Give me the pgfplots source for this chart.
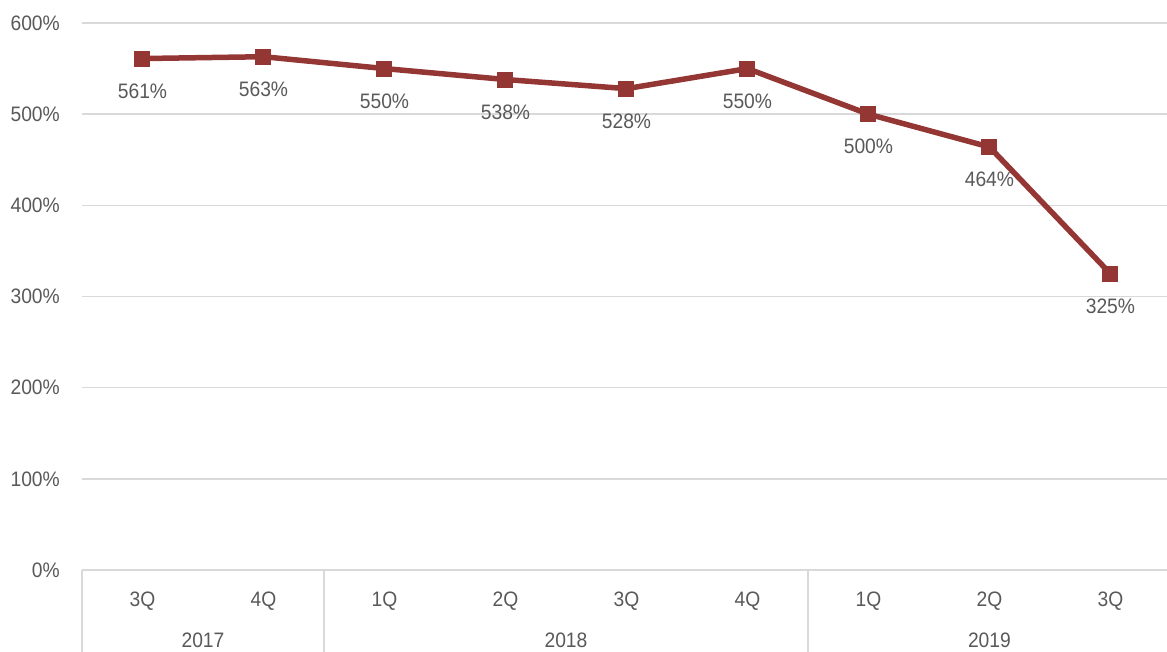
\documentclass[border=0pt]{standalone}
\usepackage{fontspec}
\setmainfont{Liberation Sans}[FakeStretch=0.92]
\usepackage{pgfplots}
\pgfplotsset{compat=1.18}
\definecolor{serie}{HTML}{943634}
\definecolor{txt}{HTML}{595959}
\definecolor{grd}{HTML}{D9D9D9}
\newcommand\lblfont{\fontsize{21}{25}\selectfont}
\begin{document}
\begin{tikzpicture}
\path[use as bounding box] (-82bp,-82bp) rectangle (1085bp,570bp);
\begin{axis}[
  at={(0,0)}, anchor=south west,
  scale only axis, width=1085bp, height=547bp,
  xmin=-0.5, xmax=8.467, ymin=0, ymax=600,
  ytick={0,100,...,600},
  yticklabels={0\%,100\%,200\%,300\%,400\%,500\%,600\%},
  xtick={0,...,8},
  xticklabels={3Q,4Q,1Q,2Q,3Q,4Q,1Q,2Q,3Q},
  major tick length=0pt,
  axis line style={draw=none},
  ymajorgrids, grid style={grd, line width=1.5bp},
  tick label style={font=\lblfont, text=txt, inner sep=0pt},
  yticklabel style={anchor=east, xshift=-22bp},
  xticklabel style={anchor=north, yshift=-22bp},
  clip=false,
  /pgf/number format/assume math mode=true,
  nodes near coords={\pgfmathprintnumber[fixed,precision=0,assume math mode=true]{\pgfplotspointmeta}\%},
  every node near coord/.append style={anchor=north, yshift=-25bp, inner sep=0pt,
    font=\lblfont, text=txt},
]
\addplot[serie, line width=5.5bp, mark=square*, mark size=7.5bp,
  mark options={solid, fill=serie, line width=0pt}] coordinates {
  (0,561) (1,563) (2,550) (3,538) (4,528) (5,550) (6,500) (7,464) (8,325)
};
\draw[grd, line width=1.5bp] (axis cs:-0.5,0) -- ([yshift=-90bp]axis cs:-0.5,0);
\draw[grd, line width=1.5bp] (axis cs:1.5,0) -- ([yshift=-90bp]axis cs:1.5,0);
\draw[grd, line width=1.5bp] (axis cs:5.5,0) -- ([yshift=-90bp]axis cs:5.5,0);
\node[anchor=north, inner sep=0pt, text=txt, font=\lblfont]
  at ([yshift=-63bp]axis cs:0.5,0) {2017};
\node[anchor=north, inner sep=0pt, text=txt, font=\lblfont]
  at ([yshift=-63bp]axis cs:3.5,0) {2018};
\node[anchor=north, inner sep=0pt, text=txt, font=\lblfont]
  at ([yshift=-63bp]axis cs:7,0) {2019};
\end{axis}
\end{tikzpicture}
\end{document}
